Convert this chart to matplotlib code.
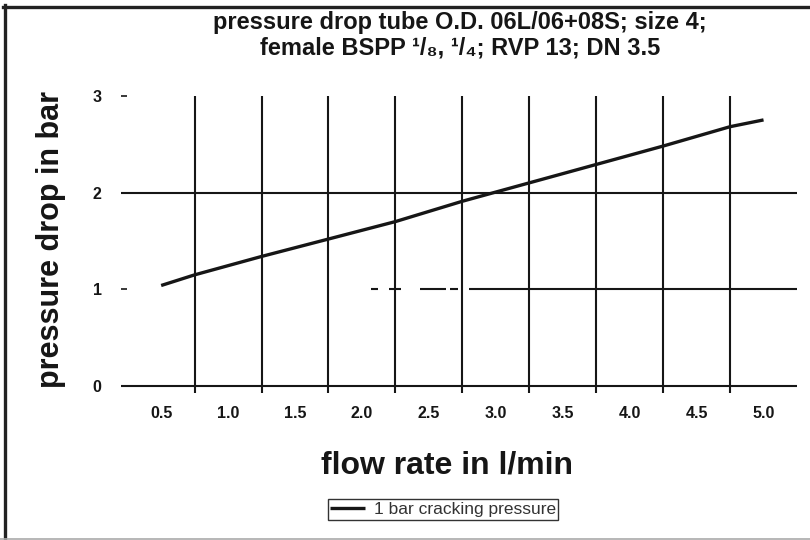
import matplotlib.pyplot as plt
from matplotlib.lines import Line2D

# pressure drop vs. flow for the check valve (1 bar cracking pressure)
flow = [0.5, 0.75, 1.25, 1.75, 2.25, 2.75, 3.25, 3.75, 4.25, 4.75, 5.0]
dp = [1.04, 1.15, 1.34, 1.52, 1.70, 1.91, 2.10, 2.29, 2.48, 2.68, 2.75]

xtick_vals = [0.5, 1.0, 1.5, 2.0, 2.5, 3.0, 3.5, 4.0, 4.5, 5.0]
xtick_labels = ['0.5', '1.0', '1.5', '2.0', '2.5', '3.0', '3.5', '4.0', '4.5', '5.0']
ytick_vals = [0, 1, 2, 3]
ytick_labels = ['0', '1', '2', '3']

# grid sits between the flow labels
xgrid = [0.75, 1.25, 1.75, 2.25, 2.75, 3.25, 3.75, 4.25, 4.75]
# the 1 bar line is broken up on the left
y1_segments = [(2.07, 2.12), (2.20, 2.29), (2.43, 2.63), (2.66, 2.72), (2.80, 5.25)]

INK = '#161616'
plt.rcParams['font.family'] = ['Liberation Sans', 'DejaVu Sans']

W, H = 810, 540
fig = plt.figure(figsize=(8.1, 5.4), dpi=100)
ax = fig.add_axes([121 / W, (H - 393) / H, (797 - 121) / W, (393 - 95.7) / H])
xmin, xmax = 0.2, 5.25
ymin, ymax = -0.07, 3.0
ax.set_xlim(xmin, xmax)
ax.set_ylim(ymin, ymax)
for s in ax.spines.values():
    s.set_visible(False)

ax.vlines(xgrid, ymin, ymax, color=INK, lw=1.5)
ax.hlines([0, 2], xmin, xmax, color=INK, lw=1.5)
for a, b in y1_segments:
    ax.hlines(1, a, b, color=INK, lw=1.5)

ax.plot(flow, dp, color=INK, lw=2.4, solid_capstyle='butt',
        label='1 bar cracking pressure')

ax.set_xticks(xtick_vals, xtick_labels, fontweight='bold', fontsize=11.5)
ax.set_yticks(ytick_vals, ytick_labels, fontweight='bold', fontsize=11.5)
ax.tick_params(axis='x', length=0, pad=9, colors=INK)
ax.tick_params(axis='y', direction='in', length=4, width=1.2, pad=14, colors=INK)

fig.text(460 / W, 1 - 29 / H, 'pressure drop tube O.D. 06L/06+08S; size 4;',
         ha='center', va='baseline', fontsize=17, fontweight='bold', color=INK)
fig.text(460 / W, 1 - 55 / H, 'female BSPP \u00b9/\u2088, \u00b9/\u2084; RVP 13; DN 3.5',
         ha='center', va='baseline', fontsize=17, fontweight='bold', color=INK)

fig.text(447 / W, 1 - 473 / H, 'flow rate in l/min', ha='center', va='baseline',
         fontsize=23, fontweight='bold', color=INK)
fig.text(51 / W, 1 - 240 / H, 'pressure drop in bar', ha='center', va='center',
         rotation=90, fontsize=22, fontweight='bold', color=INK)

leg = fig.legend(loc='center', bbox_to_anchor=(443 / W, 1 - 509.5 / H),
                 fontsize=12.5, frameon=True, fancybox=False, framealpha=1,
                 edgecolor='#333333', handlelength=2.0, handletextpad=0.5,
                 borderpad=0.15, borderaxespad=0)
leg.get_frame().set_linewidth(1.0)
for t in leg.get_texts():
    t.set_color('#333333')

# page frame: heavy top and left rule, light bottom rule
fig.add_artist(Line2D([4.5 / W, 4.5 / W], [0, 1 - 5 / H], color='#222222', lw=2.4))
fig.add_artist(Line2D([3 / W, 1], [1 - 6.5 / H, 1 - 6.5 / H], color='#222222', lw=2.4))
fig.add_artist(Line2D([0, 1], [1 / H, 1 / H], color='#aaaaaa', lw=1.2))

fig.savefig('out.png', dpi=100)
